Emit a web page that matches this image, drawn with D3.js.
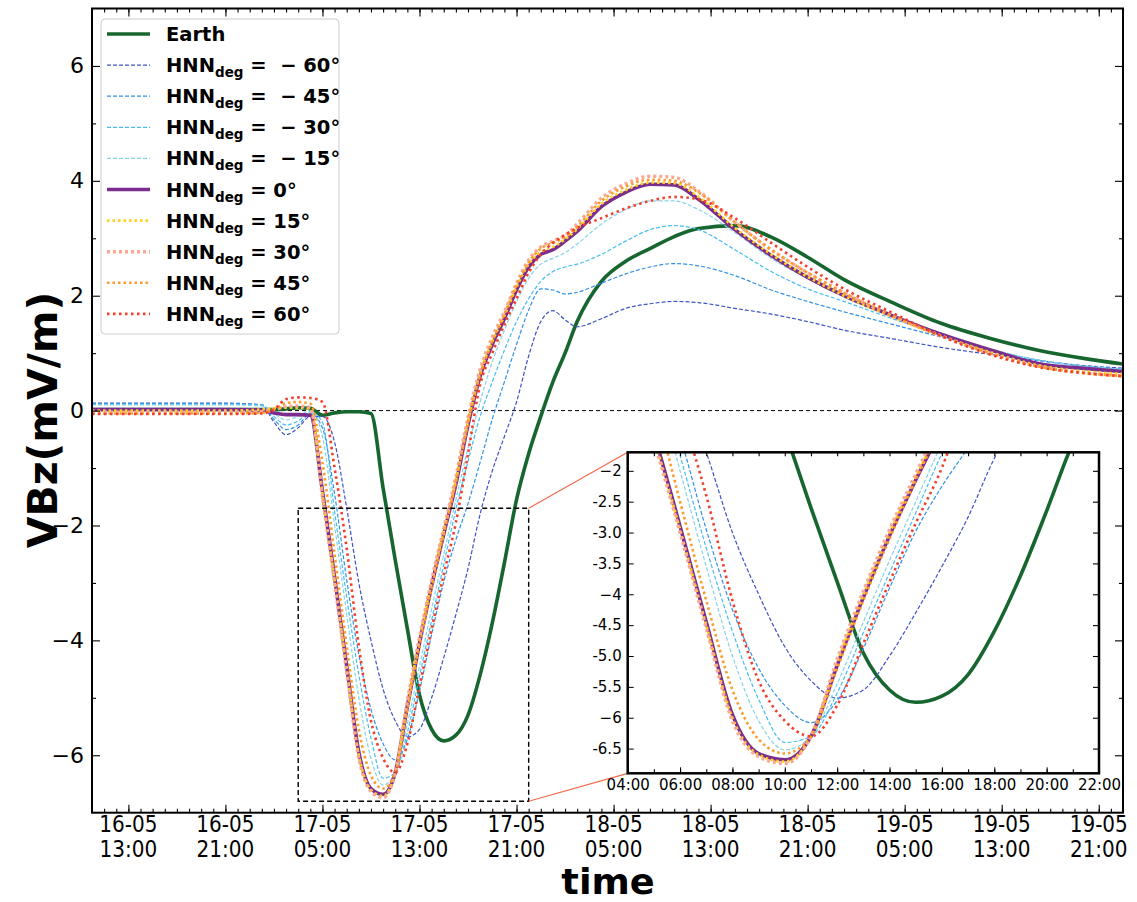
<!DOCTYPE html>
<html>
<head>
<meta charset="utf-8">
<script src="https://cdn.jsdelivr.net/npm/d3@7"></script>
<style>
  body { margin: 0; background: #fff; }
  svg { display: block; font-family: "DejaVu Sans", sans-serif; }
</style>
</head>
<body>
<div id="chart"></div>
<script>
// Sample times (day-month hour), shared by every series
const times = [
    "16-05 10:00", "16-05 16:00", "16-05 21:00",
    "17-05 00:00", "17-05 01:00", "17-05 02:00", "17-05 03:00", "17-05 04:00", "17-05 05:00",
    "17-05 06:00", "17-05 07:00", "17-05 08:00", "17-05 09:00", "17-05 10:00", "17-05 11:00",
    "17-05 12:00", "17-05 13:00", "17-05 14:00", "17-05 15:00", "17-05 16:00", "17-05 17:00",
    "17-05 18:00", "17-05 19:00", "17-05 20:00", "17-05 21:00", "17-05 22:00", "17-05 23:00",
    "18-05 00:00", "18-05 01:00", "18-05 02:00", "18-05 04:00", "18-05 06:00", "18-05 08:00",
    "18-05 10:00", "18-05 12:00", "18-05 15:00", "18-05 18:00", "18-05 21:00",
    "19-05 00:00", "19-05 04:00", "19-05 08:00", "19-05 12:00", "19-05 16:00", "19-05 20:00", "19-05 23:00"
];

// VBz (mV/m)
const earth = [0.02, 0.02, 0.02,
    0.02, 0.02, 0.03, 0.05, 0.04, -0.08, -0.04, -0.02, -0.02, -0.05, -1.35, -2.6, -3.8, -4.95, -5.55, -5.75, -5.65, -5.3, -4.6, -3.7, -2.65, -1.55, -0.75, -0.1,
    0.5, 1.0, 1.55, 2.25, 2.6, 2.82, 3.03, 3.17, 3.22, 3.02, 2.67,
    2.28, 1.88, 1.52, 1.26, 1.05, 0.9, 0.81];
const hnnM60 = [0.13, 0.13, 0.13,
    0.1, -0.2, -0.42, -0.3, -0.1, -0.1, -0.55, -1.7, -3.0, -4.0, -4.85, -5.4, -5.68, -5.55, -5.0, -4.3, -3.55, -2.75, -1.8, -1.05, -0.45, 0.15, 0.95, 1.55,
    1.74, 1.58, 1.46, 1.6, 1.78, 1.86, 1.9, 1.88, 1.78, 1.68, 1.55,
    1.4, 1.25, 1.1, 0.98, 0.87, 0.78, 0.74];
const hnnM45 = [0.12, 0.12, 0.12,
    0.1, -0.15, -0.33, -0.25, -0.05, -0.3, -1.45, -2.95, -4.25, -5.2, -5.8, -6.08, -5.72, -4.88, -3.9, -2.98, -2.25, -1.62, -0.9, -0.15, 0.5, 1.15, 1.75, 2.12,
    2.1, 2.03, 2.06, 2.22, 2.38, 2.5, 2.56, 2.52, 2.35, 2.1, 1.9,
    1.72, 1.5, 1.28, 1.06, 0.88, 0.77, 0.72];
const hnnM30 = [0.11, 0.11, 0.11,
    0.1, -0.1, -0.25, -0.18, -0.02, -0.2, -1.75, -3.25, -4.6, -5.7, -6.4, -6.3, -5.6, -4.62, -3.65, -2.68, -1.72, -0.88, -0.1, 0.5, 1.05, 1.55, 1.95, 2.25,
    2.42, 2.5, 2.55, 2.72, 2.95, 3.15, 3.22, 3.15, 2.8, 2.42, 2.12,
    1.9, 1.6, 1.32, 1.07, 0.88, 0.77, 0.72];
const hnnM15 = [0.1, 0.1, 0.1,
    0.08, -0.05, -0.16, -0.1, 0.0, -0.45, -2.0, -3.55, -5.0, -6.05, -6.52, -6.3, -5.45, -4.45, -3.45, -2.5, -1.55, -0.65, 0.15, 0.85, 1.4, 1.9, 2.3, 2.55,
    2.65, 2.75, 2.9, 3.25, 3.5, 3.65, 3.65, 3.5, 3.1, 2.65, 2.3,
    2.0, 1.65, 1.35, 1.08, 0.88, 0.77, 0.72];
const hnn0 = [0.02, 0.02, 0.02,
    0.01, -0.04, -0.07, -0.07, -0.08, -1.4, -2.9, -4.45, -5.95, -6.58, -6.68, -6.3, -5.15, -4.05, -3.05, -2.15, -1.28, -0.25, 0.6, 1.15, 1.6, 2.1, 2.5, 2.72,
    2.8, 2.95, 3.12, 3.55, 3.8, 3.94, 3.93, 3.68, 3.15, 2.7, 2.32,
    2.0, 1.65, 1.33, 1.06, 0.82, 0.73, 0.68];
const hnnP15 = [0.0, 0.0, 0.0,
    0.02, 0.04, 0.05, 0.05, 0.03, -1.45, -2.95, -4.5, -6.0, -6.6, -6.71, -6.3, -5.1, -4.0, -3.0, -2.1, -1.22, -0.2, 0.65, 1.2, 1.65, 2.15, 2.55, 2.76,
    2.85, 2.98, 3.16, 3.6, 3.84, 3.97, 3.96, 3.72, 3.18, 2.72, 2.33,
    2.0, 1.63, 1.3, 1.02, 0.79, 0.68, 0.64];
const hnnP30 = [-0.03, -0.03, -0.03,
    -0.02, 0.02, 0.07, 0.08, 0.05, -1.5, -3.0, -4.55, -6.05, -6.63, -6.74, -6.3, -5.05, -3.95, -2.95, -2.05, -1.15, -0.12, 0.72, 1.28, 1.72, 2.22, 2.62, 2.85,
    2.95, 3.05, 3.25, 3.7, 3.95, 4.08, 4.06, 3.82, 3.28, 2.8, 2.4,
    2.05, 1.65, 1.3, 1.0, 0.77, 0.65, 0.6];
const hnnP45 = [-0.05, -0.05, -0.05,
    -0.04, 0.02, 0.13, 0.15, 0.12, -0.9, -2.5, -4.1, -5.55, -6.35, -6.58, -6.3, -5.2, -4.1, -3.1, -2.15, -1.25, -0.22, 0.62, 1.2, 1.68, 2.18, 2.58, 2.82,
    2.92, 3.02, 3.2, 3.65, 3.9, 4.02, 4.0, 3.8, 3.28, 2.8, 2.4,
    2.05, 1.65, 1.3, 1.0, 0.77, 0.65, 0.6];
const hnnP60 = [-0.06, -0.06, -0.06,
    -0.05, 0.02, 0.2, 0.23, 0.22, 0.15, -1.0, -2.4, -4.1, -5.4, -6.05, -6.3, -5.8, -4.8, -3.8, -2.85, -1.95, -0.75, 0.45, 1.0, 1.5, 1.95, 2.4, 2.72,
    2.92, 3.06, 3.18, 3.35, 3.52, 3.65, 3.72, 3.68, 3.35, 2.92, 2.5,
    2.12, 1.7, 1.3, 0.98, 0.76, 0.65, 0.6];

const hnnAngles = [-60, -45, -30, -15, 0, 15, 30, 45, 60];
const hnnValues = [hnnM60, hnnM45, hnnM30, hnnM15, hnn0, hnnP15, hnnP30, hnnP45, hnnP60];

// Axis limits and ticks
const xLimits = ["16-05 10:00", "19-05 23:00"];
const yLimits = [-7, 7];
const xFirstTick = "16-05 13:00";
const insetXLimits = ["17-05 04:00", "17-05 22:00"];
const insetYLimits = [-6.9, -1.7];
const insetYTicks = [-2, -2.5, -3, -3.5, -4, -4.5, -5, -5.5, -6, -6.5];
const insetYLabels = ["\u22122", "-2.5", "-3.0", "-3.5", "\u22124", "-4.5", "-5.0", "-5.5", "\u22126", "-6.5"];
const boxTimes = ["17-05 03:00", "17-05 22:00"];
const boxValues = [-1.7, -6.8];

// Line styles, in legend order
const styles = [
    { color: "#17662f", width: 3.6, dash: null },
    { color: "#3f52c6", width: 1.2, dash: "4,2" },
    { color: "#3190e6", width: 1.2, dash: "4,2" },
    { color: "#45bdf0", width: 1.2, dash: "4,2" },
    { color: "#86d3ea", width: 1.2, dash: "4,2" },
    { color: "#7b2d8e", width: 3.6, dash: null },
    { color: "#ffd31c", width: 2.6, dash: "2.5,3" },
    { color: "#fca891", width: 3.4, dash: "3,3" },
    { color: "#fb9b2c", width: 2.6, dash: "2.5,3" },
    { color: "#f23e2c", width: 2.6, dash: "2.5,3.5" }
];

const parseTime = d3.utcParse("%d-%m %H:%M");
const dates = times.map(parseTime);

const series = [{ label: "Earth", values: earth }].concat(
    hnnAngles.map((a, i) => ({ label: "HNN", angle: a, values: hnnValues[i] }))
).map((s, i) => ({
    ...s,
    style: styles[i],
    points: dates.map((t, j) => ({ t: t, v: s.values[j] }))
}));

const width = 1137;
const height = 902;

const svg = d3.select("#chart")
    .append("svg")
    .attr("width", width)
    .attr("height", height)
    .style("background", "#fff");

const x = d3.scaleUtc().domain(xLimits.map(parseTime)).range([92, 1123]);
const y = d3.scaleLinear().domain(yLimits).range([812.7, 8.5]);
const xi = d3.scaleUtc().domain(insetXLimits.map(parseTime)).range([627.7, 1099]);
const yi = d3.scaleLinear().domain(insetYLimits).range([773.3, 452.3]);

const defs = svg.append("defs");
defs.append("clipPath").attr("id", "clip-main").append("rect")
    .attr("x", x.range()[0]).attr("y", y.range()[1])
    .attr("width", x.range()[1] - x.range()[0]).attr("height", y.range()[0] - y.range()[1]);
defs.append("clipPath").attr("id", "clip-inset").append("rect")
    .attr("x", xi.range()[0]).attr("y", yi.range()[1])
    .attr("width", xi.range()[1] - xi.range()[0]).attr("height", yi.range()[0] - yi.range()[1]);

function drawLines(g, sx, sy) {
    const line = d3.line()
        .x(d => sx(d.t))
        .y(d => sy(d.v))
        .curve(d3.curveMonotoneX);
    g.selectAll("path.series")
        .data(series)
        .join("path")
        .attr("class", "series")
        .attr("d", d => line(d.points))
        .attr("fill", "none")
        .attr("stroke", d => d.style.color)
        .attr("stroke-width", d => d.style.width)
        .attr("stroke-dasharray", d => d.style.dash)
        .attr("stroke-linejoin", "round");
}

// Main plot
const plot = svg.append("g").attr("clip-path", "url(#clip-main)");

plot.append("line")
    .attr("x1", x.range()[0]).attr("x2", x.range()[1])
    .attr("y1", y(0)).attr("y2", y(0))
    .attr("stroke", "#000").attr("stroke-width", 1)
    .attr("stroke-dasharray", "4,3");

drawLines(plot, x, y);

// Ticks (inward, all four sides)
const xMajor = d3.utcHour.range(parseTime(xFirstTick), d3.utcHour.offset(x.domain()[1], 1), 8);
const xMinor = d3.utcHour.range(x.domain()[0], d3.utcHour.offset(x.domain()[1], 1), 1);
const yMajor = d3.range(yLimits[0] + 1, yLimits[1], 2);
const yMinor = d3.range(yLimits[0] + 2, yLimits[1], 2);

function tickGroup(parent, axis, tx, ty) {
    parent.append("g")
        .attr("transform", `translate(${tx},${ty})`)
        .call(axis)
        .call(g => g.select(".domain").remove())
        .call(g => g.selectAll("line").attr("stroke-width", 1.1));
}

const axes = svg.append("g");
tickGroup(axes, d3.axisBottom(x).tickValues(xMinor).tickSize(-4).tickFormat(""), 0, y.range()[0]);
tickGroup(axes, d3.axisBottom(x).tickValues(xMajor).tickSize(-8).tickFormat(""), 0, y.range()[0]);
tickGroup(axes, d3.axisTop(x).tickValues(xMinor).tickSize(-4).tickFormat(""), 0, y.range()[1]);
tickGroup(axes, d3.axisTop(x).tickValues(xMajor).tickSize(-8).tickFormat(""), 0, y.range()[1]);
tickGroup(axes, d3.axisLeft(y).tickValues(yMinor).tickSize(-4).tickFormat(""), x.range()[0], 0);
tickGroup(axes, d3.axisRight(y).tickValues(yMinor).tickSize(-4).tickFormat(""), x.range()[1], 0);
tickGroup(axes, d3.axisRight(y).tickValues(yMajor).tickSize(-8).tickFormat(""), x.range()[1], 0);

axes.append("g")
    .attr("transform", `translate(${x.range()[0]},0)`)
    .call(d3.axisLeft(y).tickValues(yMajor).tickSize(-8).tickPadding(8).tickFormat(d3.format("d")))
    .call(g => g.select(".domain").remove())
    .call(g => g.selectAll("line").attr("stroke-width", 1.1))
    .call(g => g.selectAll("text").attr("font-size", 22).attr("font-family", "DejaVu Sans").attr("fill", "#000"));

const fmtDay = d3.utcFormat("%d-%m");
const fmtHour = d3.utcFormat("%H:%M");
const xLabels = axes.append("g")
    .selectAll("g")
    .data(xMajor)
    .join("g")
    .attr("transform", d => `translate(${x(d)},0) scale(0.87,1)`)
    .attr("font-size", 23)
    .attr("text-anchor", "middle");
xLabels.append("text").attr("y", 832).text(d => fmtDay(d));
xLabels.append("text").attr("y", 857).text(d => fmtHour(d));

axes.append("rect")
    .attr("x", x.range()[0]).attr("y", y.range()[1])
    .attr("width", x.range()[1] - x.range()[0]).attr("height", y.range()[0] - y.range()[1])
    .attr("fill", "none").attr("stroke", "#000").attr("stroke-width", 2);

// Axis titles
svg.append("text")
    .attr("transform", "translate(57,420) rotate(-90)")
    .attr("text-anchor", "middle")
    .attr("font-weight", "bold")
    .attr("font-size", 41)
    .text("VBz(mV/m)");

svg.append("text")
    .attr("transform", "translate(608,894) scale(1.05,1)")
    .attr("text-anchor", "middle")
    .attr("font-weight", "bold")
    .attr("font-size", 35)
    .text("time");

// Legend
const legend = svg.append("g");
legend.append("rect")
    .attr("x", 101).attr("y", 19).attr("width", 238).attr("height", 315).attr("rx", 4)
    .attr("fill", "#fff").attr("fill-opacity", 0.9)
    .attr("stroke", "#cccccc").attr("stroke-width", 1);

const rows = legend.selectAll("g.row")
    .data(series)
    .join("g")
    .attr("class", "row")
    .attr("transform", (d, i) => `translate(0,${34 + i * 31.1})`);

rows.append("line")
    .attr("x1", 107).attr("x2", 150)
    .attr("stroke", d => d.style.color)
    .attr("stroke-width", d => d.style.width)
    .attr("stroke-dasharray", d => d.style.dash);

const rowText = rows.append("text")
    .attr("x", 166).attr("y", 7)
    .attr("font-weight", "bold")
    .attr("font-size", 19.5);
rowText.filter(d => d.angle === undefined).text(d => d.label);
rowText.filter(d => d.angle !== undefined).each(function(d) {
    const t = d3.select(this);
    t.append("tspan").text("HNN");
    t.append("tspan").attr("font-size", 13.5).attr("dy", 5).text("deg");
    const val = d.angle < 0 ? "\u00a0\u2212 " + Math.abs(d.angle) : d.angle;
    t.append("tspan").attr("dy", -5).text(" = " + val + "\u00b0");
});

// Zoom box and connectors
const box = {
    x0: x(parseTime(boxTimes[0])), x1: x(parseTime(boxTimes[1])),
    y0: y(boxValues[0]), y1: y(boxValues[1])
};
svg.append("rect")
    .attr("x", box.x0).attr("y", box.y0)
    .attr("width", box.x1 - box.x0).attr("height", box.y1 - box.y0)
    .attr("fill", "none").attr("stroke", "#000").attr("stroke-width", 1.4)
    .attr("stroke-dasharray", "5,3");

svg.selectAll("line.connector")
    .data([[box.y0, yi.range()[1]], [box.y1, yi.range()[0]]])
    .join("line")
    .attr("class", "connector")
    .attr("x1", box.x1).attr("y1", d => d[0])
    .attr("x2", xi.range()[0]).attr("y2", d => d[1])
    .attr("stroke", "#f2694c").attr("stroke-width", 1.2);

// Inset
const inset = svg.append("g");
inset.append("rect")
    .attr("x", xi.range()[0]).attr("y", yi.range()[1])
    .attr("width", xi.range()[1] - xi.range()[0]).attr("height", yi.range()[0] - yi.range()[1])
    .attr("fill", "#fff");

drawLines(inset.append("g").attr("clip-path", "url(#clip-inset)"), xi, yi);

const xiMajor = d3.utcHour.every(2).range(xi.domain()[0], d3.utcHour.offset(xi.domain()[1], 1));
const xiMinor = d3.utcHour.range(xi.domain()[0], d3.utcHour.offset(xi.domain()[1], 1), 1);

tickGroup(inset, d3.axisBottom(xi).tickValues(xiMinor).tickSize(-4).tickFormat(""), 0, yi.range()[0]);
tickGroup(inset, d3.axisTop(xi).tickValues(xiMinor).tickSize(-4).tickFormat(""), 0, yi.range()[1]);
tickGroup(inset, d3.axisRight(yi).tickValues(insetYTicks).tickSize(-6).tickFormat(""), xi.range()[1], 0);

inset.append("g")
    .attr("transform", `translate(0,${yi.range()[0]})`)
    .call(d3.axisBottom(xi).tickValues(xiMajor).tickSize(-6).tickPadding(6).tickFormat(fmtHour))
    .call(g => g.select(".domain").remove())
    .call(g => g.selectAll("text").attr("font-size", 15).attr("font-family", "DejaVu Sans").attr("fill", "#000"));

inset.append("g")
    .attr("transform", `translate(${xi.range()[0]},0)`)
    .call(d3.axisLeft(yi).tickValues(insetYTicks).tickSize(-6).tickPadding(6).tickFormat((d, i) => insetYLabels[i]))
    .call(g => g.select(".domain").remove())
    .call(g => g.selectAll("text").attr("font-size", 15).attr("font-family", "DejaVu Sans").attr("fill", "#000"));

inset.append("rect")
    .attr("x", xi.range()[0]).attr("y", yi.range()[1])
    .attr("width", xi.range()[1] - xi.range()[0]).attr("height", yi.range()[0] - yi.range()[1])
    .attr("fill", "none").attr("stroke", "#000").attr("stroke-width", 2.5);
</script>
</body>
</html>
